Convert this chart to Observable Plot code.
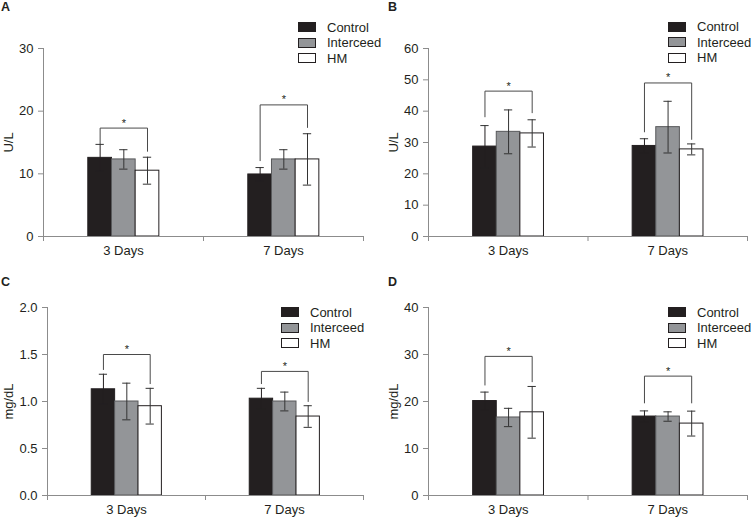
<!DOCTYPE html>
<html><head><meta charset="utf-8">
<script src="https://cdn.jsdelivr.net/npm/d3@7"></script>
<script src="https://cdn.jsdelivr.net/npm/@observablehq/plot@0.6"></script>
<style>
body{margin:0;background:#fff;font-family:"Liberation Sans",Arial,sans-serif;}
#wrap{position:relative;width:751px;height:518px;overflow:hidden;background:#fff}
.panel{position:absolute;width:375px;height:259px}
.panel svg{position:absolute;left:0;top:0}
.plabel{position:absolute;font-weight:bold;font-size:12.5px;line-height:12px;color:#231f20}
.legend{position:absolute;font-size:13px;color:#231f20}
.legend .row{display:flex;align-items:center;height:15.3px}
.legend .sw{box-sizing:border-box;width:18px;height:10px;border:1px solid #231f20;margin-right:11px}
.legend .lt{line-height:13px;white-space:nowrap}
</style>
</head><body><div id="wrap"></div>
<script>
// ---- data ----
const days = ["3 Days", "7 Days"];
const groups = ["Control", "Interceed", "HM"];
// order: 3 Days (Control, Interceed, HM), 7 Days (Control, Interceed, HM)
const meanA = [12.55, 12.3, 10.5, 9.9, 12.3, 12.3];
const sdA   = [2.15, 1.55, 2.15, 1.1, 1.55, 4.1];
const meanB = [28.7, 33.4, 32.9, 28.9, 34.9, 27.8];
const sdB   = [6.7, 7.0, 4.35, 2.3, 8.25, 1.75];
const meanC = [1.13, 1.0, 0.95, 1.03, 1.0, 0.84];
const sdC   = [0.16, 0.195, 0.19, 0.11, 0.10, 0.115];
const meanD = [20.1, 16.6, 17.7, 16.8, 16.8, 15.3];
const sdD   = [1.9, 1.95, 5.5, 1.2, 1.0, 2.65];
// significance brackets per day: [left leg end, top, right leg end]
const bracketA = [[14.8, 17.3, 13.6], [12.1, 21.0, 17.4]];
const bracketB = [[38.2, 46.4, 39.5], [33.4, 49.0, 31.0]];
const bracketC = [[1.34, 1.50, 1.19], [1.19, 1.32, 1.0]];
const bracketD = [[23.5, 29.6, 24.2], [19.7, 25.4, 19.7]];
const ticksA = [0, 10, 20, 30];
const ticksB = [0, 10, 20, 30, 40, 50, 60];
const ticksC = [0, 0.5, 1.0, 1.5, 2.0];
const ticksD = [0, 10, 20, 30, 40];

// ---- style ----
const fills = ["#231f20", "#939598", "#ffffff"];
const strokes = ["#231f20", "#58595b", "#231f20"];
const whisk = ["#231f20", "#333333", "#333333"];
const G0 = 0.28, BW = 0.148, CAP = 0.026;
const axisGray = "#8c8c8c", ink = "#231f20";

const panels = [
  {name: "A", left: 0, top: 0, ml: 43, mr: 12, domain: [0, 30], ticks: ticksA, fmt: d3.format("d"), label: "U/L", lo: 40, mean: meanA, sd: sdA, br: bracketA, lg: [298, 22.5]},
  {name: "B", left: 375, top: 0, ml: 53, mr: 3, domain: [0, 60], ticks: ticksB, fmt: d3.format("d"), label: "U/L", lo: 40, mean: meanB, sd: sdB, br: bracketB, lg: [293, 22]},
  {name: "C", left: 0, top: 259, ml: 47, mr: 12, domain: [0, 2], ticks: ticksC, fmt: d3.format(".1f"), label: "mg/dL", lo: 44, mean: meanC, sd: sdC, br: bracketC, lg: [281, 48.5]},
  {name: "D", left: 375, top: 259, ml: 53, mr: 3, domain: [0, 40], ticks: ticksD, fmt: d3.format("d"), label: "mg/dL", lo: 39.5, mean: meanD, sd: sdD, br: bracketD, lg: [293, 48.5]}
];

function chart(cfg) {
  const rows = [];
  days.forEach((day, i) => groups.forEach((g, j) => {
    const k = i * 3 + j;
    const x1 = i + G0 + j * BW;
    rows.push({i, j, x1, x2: x1 + BW, cx: x1 + BW / 2, mean: cfg.mean[k], sd: cfg.sd[k]});
  }));
  const br = cfg.br.flatMap((b, i) => {
    const xa = i + G0 + BW / 2, xb = i + G0 + 2.5 * BW;
    return [{i, x: xa, y: b[0]}, {i, x: xa, y: b[1]}, {i, x: xb, y: b[1]}, {i, x: xb, y: b[2]}];
  });
  const stars = cfg.br.map((b, i) => ({x: i + G0 + 1.5 * BW, y: b[1]}));
  return Plot.plot({
    width: 375, height: 259,
    marginLeft: cfg.ml, marginRight: cfg.mr, marginTop: 48, marginBottom: 23,
    style: {fontFamily: "'Liberation Sans', Arial, sans-serif", fontSize: "13px", background: "transparent", overflow: "visible"},
    x: {domain: [0, 2]},
    y: {domain: cfg.domain},
    marks: [
      Plot.rect(rows, {x1: "x1", x2: "x2", y1: 0, y2: "mean", fill: d => fills[d.j], stroke: d => strokes[d.j], strokeWidth: 1}),
      Plot.ruleX(rows, {x: "cx", y1: d => d.mean - d.sd, y2: d => d.mean + d.sd, stroke: d => whisk[d.j]}),
      Plot.ruleY(rows, {y: d => d.mean + d.sd, x1: d => d.cx - CAP, x2: d => d.cx + CAP, stroke: "#333"}),
      Plot.ruleY(rows, {y: d => d.mean - d.sd, x1: d => d.cx - CAP, x2: d => d.cx + CAP, stroke: d => whisk[d.j]}),
      Plot.line(br, {x: "x", y: "y", z: "i", stroke: "#4a4a4a", strokeWidth: 1}),
      Plot.text(stars, {x: "x", y: "y", text: () => "*", dy: -5, lineAnchor: "middle", fontSize: 11, fill: ink}),
      Plot.ruleX([0], {stroke: axisGray}),
      Plot.ruleY([0], {stroke: axisGray}),
      Plot.axisX({ticks: [0, 1, 2], tickSize: 5, tickFormat: () => "", stroke: axisGray, label: null}),
      Plot.axisX({ticks: [0.5, 1.5], tickSize: 0, tickPadding: 9, tickFormat: d => days[Math.floor(d)], fill: ink, label: null}),
      Plot.axisY({ticks: cfg.ticks, tickSize: 5, tickPadding: 5, tickFormat: cfg.fmt, stroke: axisGray, fill: ink,
        label: cfg.label, labelAnchor: "center", labelOffset: cfg.lo, labelArrow: "none"})
    ]
  });
}

const wrap = document.getElementById("wrap");
for (const p of panels) {
  const div = document.createElement("div");
  div.className = "panel";
  div.style.left = p.left + "px";
  div.style.top = p.top + "px";
  div.appendChild(chart(p));
  const lab = document.createElement("div");
  lab.className = "plabel";
  lab.textContent = p.name;
  lab.style.left = (p.left === 0 ? 1 : 13) + "px";
  lab.style.top = (p.top === 0 ? 1 : 17) + "px";
  div.appendChild(lab);
  const lg = document.createElement("div");
  lg.className = "legend";
  lg.style.left = p.lg[0] + "px";
  lg.style.top = (p.lg[1] - 2.65) + "px";
  groups.forEach((g, j) => {
    const row = document.createElement("div");
    row.className = "row";
    const sw = document.createElement("div");
    sw.className = "sw";
    sw.style.background = fills[j];
    const t = document.createElement("div");
    t.className = "lt";
    t.textContent = g;
    row.appendChild(sw); row.appendChild(t);
    lg.appendChild(row);
  });
  div.appendChild(lg);
  wrap.appendChild(div);
}
</script>
</body></html>
